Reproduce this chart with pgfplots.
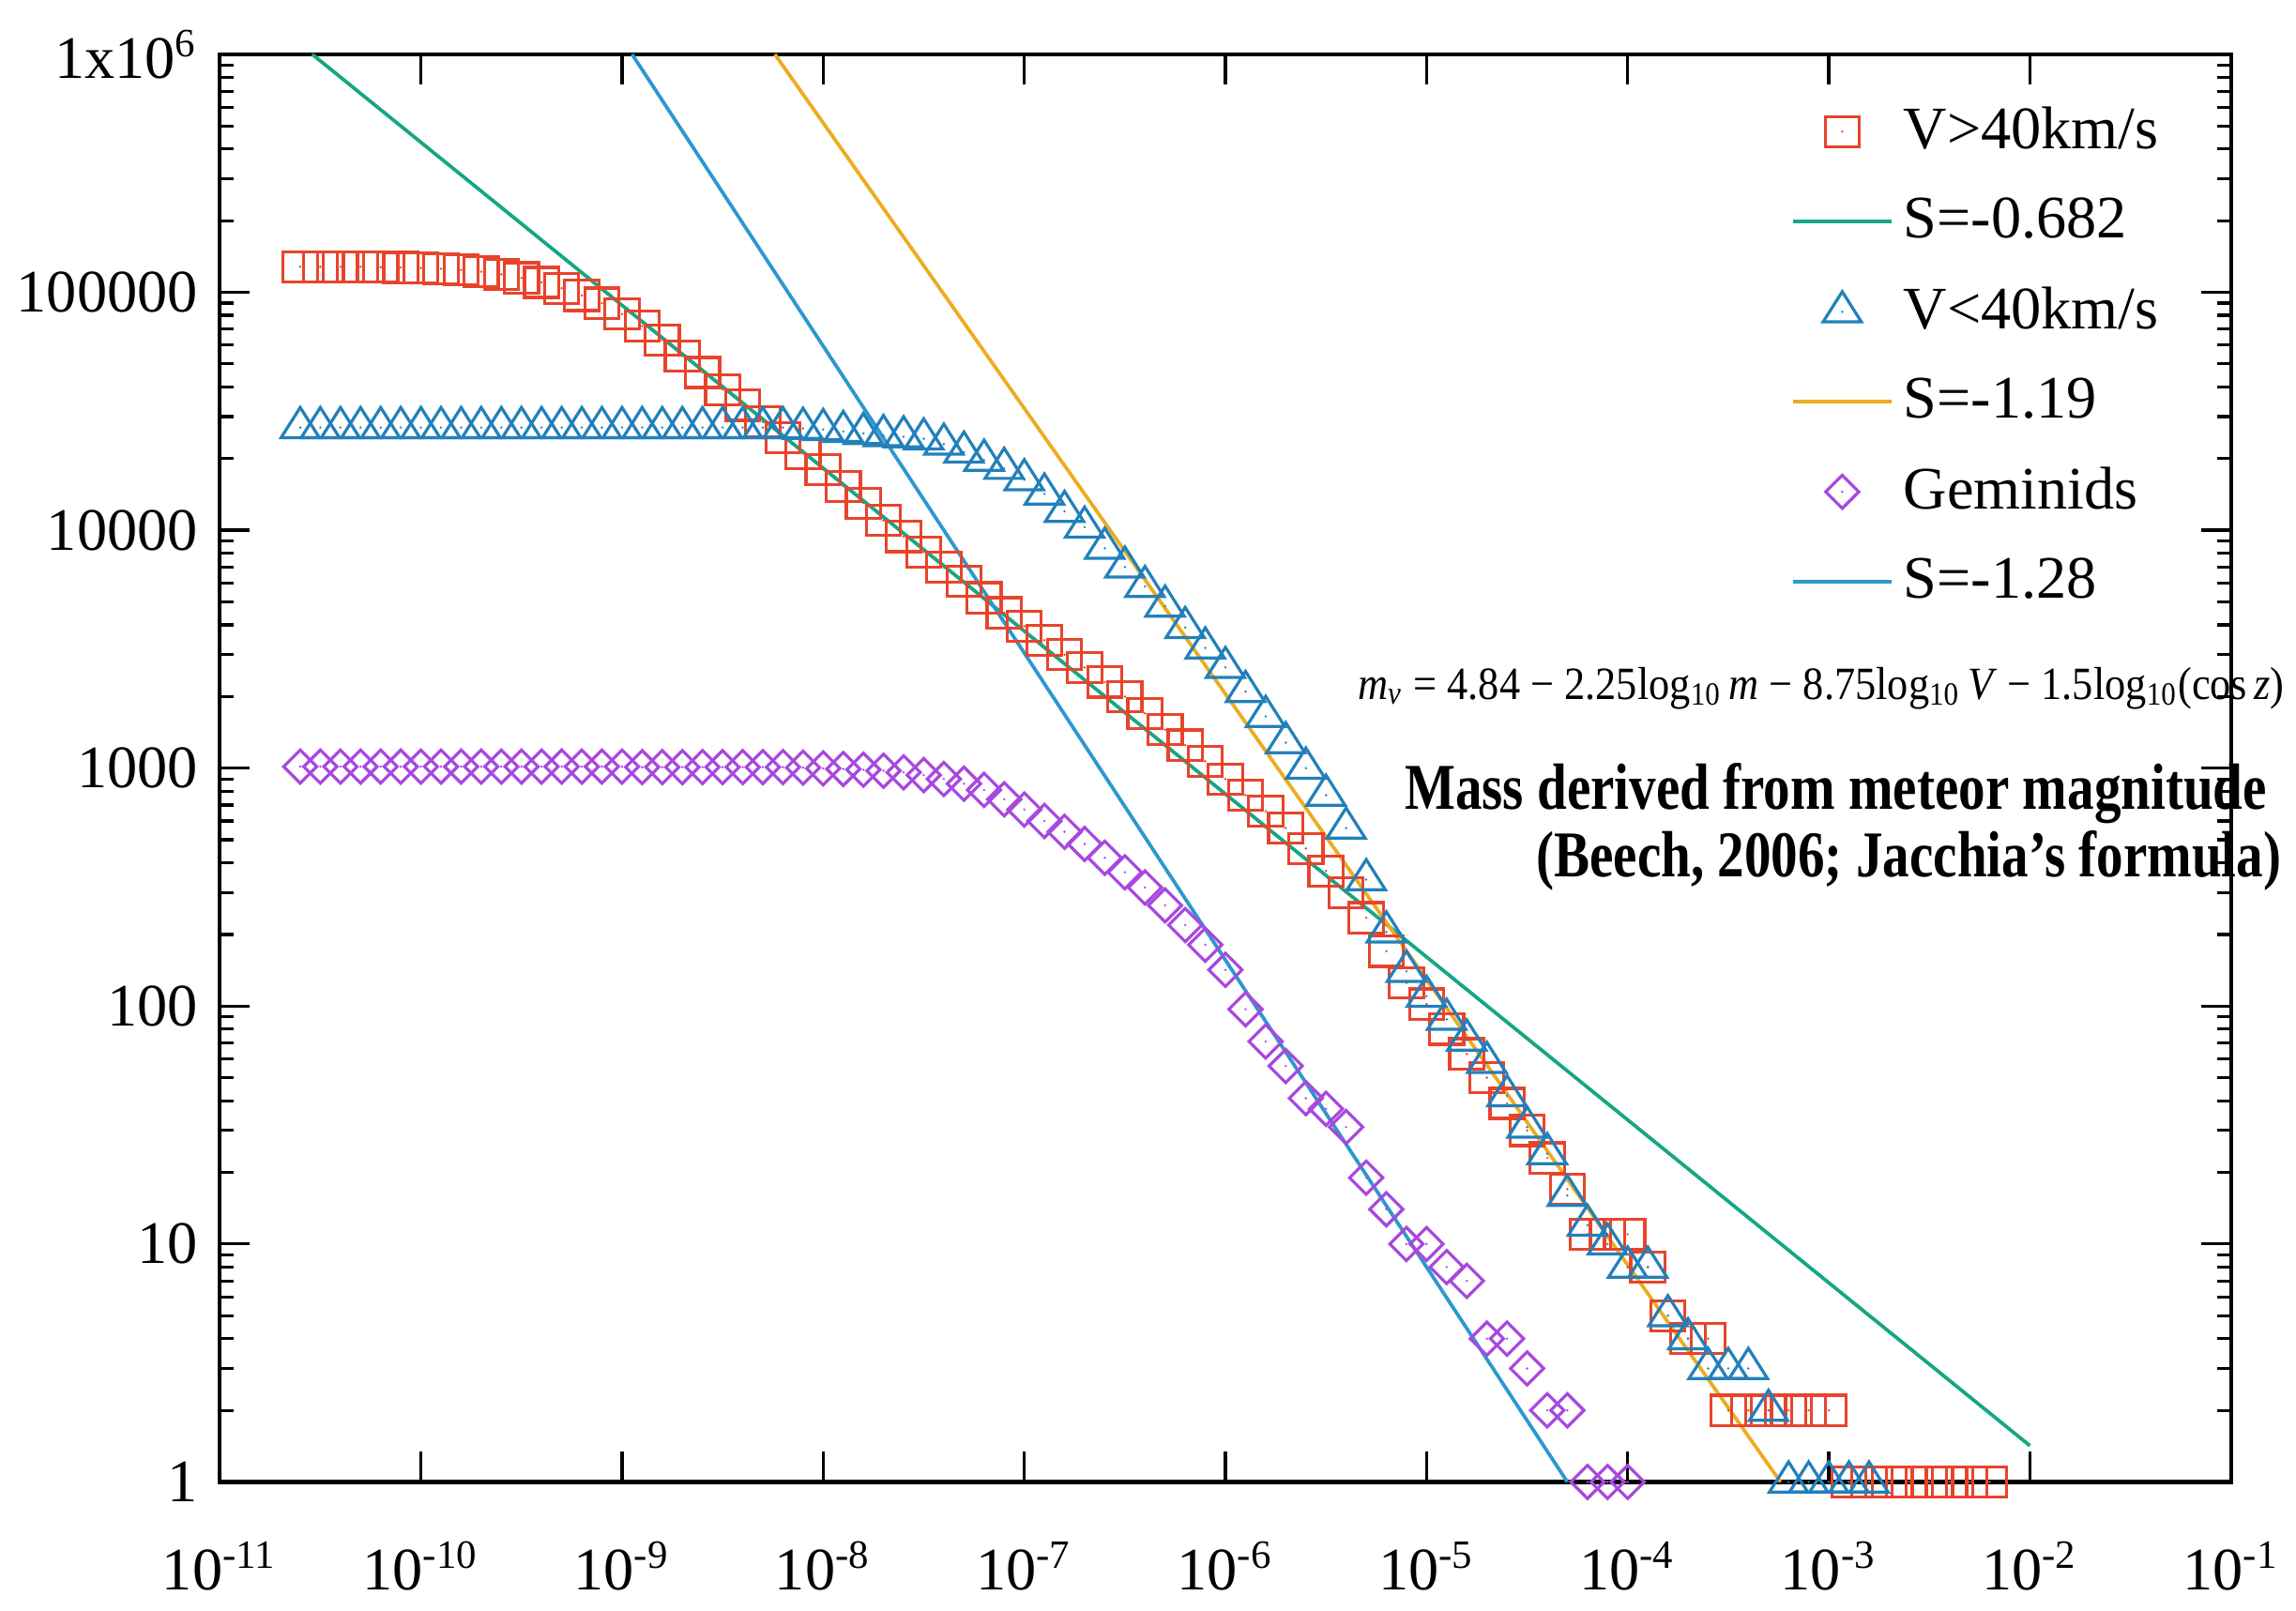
\documentclass[border=0pt]{standalone}
\usepackage{fontspec}
\setmainfont{Liberation Serif}
\usepackage{graphicx}
\usepackage{pgfplots}
\usepackage{pgfplotstable}
\pgfplotsset{compat=1.18}

\definecolor{cred}{RGB}{232,68,44}
\definecolor{cgreen}{RGB}{22,166,132}
\definecolor{ctri}{RGB}{34,128,186}
\definecolor{corange}{RGB}{236,172,32}
\definecolor{cpurple}{RGB}{168,72,222}
\definecolor{cblue}{RGB}{44,152,206}

% open marks with a small dot in the middle
\pgfdeclareplotmark{sqdot}{%
  \pgfpathrectangle{\pgfqpoint{-3.4pt}{-3pt}}{\pgfqpoint{6.8pt}{6pt}}%
  \pgfusepathqstroke
  \pgfpathcircle{\pgfpointorigin}{0.25pt}\pgfusepathqfill}
\pgfdeclareplotmark{tridot}{%
  \pgfpathmoveto{\pgfqpoint{0pt}{4pt}}%
  \pgfpathlineto{\pgfqpoint{-3.8pt}{-2pt}}%
  \pgfpathlineto{\pgfqpoint{3.8pt}{-2pt}}%
  \pgfpathclose\pgfusepathqstroke
  \pgfpathcircle{\pgfpointorigin}{0.25pt}\pgfusepathqfill}
\pgfdeclareplotmark{diadot}{%
  \pgfpathmoveto{\pgfqpoint{0pt}{3.3pt}}%
  \pgfpathlineto{\pgfqpoint{3.3pt}{0pt}}%
  \pgfpathlineto{\pgfqpoint{0pt}{-3.3pt}}%
  \pgfpathlineto{\pgfqpoint{-3.3pt}{0pt}}%
  \pgfpathclose\pgfusepathqstroke
  \pgfpathcircle{\pgfpointorigin}{0.25pt}\pgfusepathqfill}

% V > 40 km/s
\pgfplotstableread{
m N
2.512e-11 128000
3.162e-11 128000
3.981e-11 128000
5.012e-11 128000
6.310e-11 127500
7.943e-11 127000
1e-10 126500
1.259e-10 125500
1.585e-10 124000
1.995e-10 122000
2.512e-10 119000
3.162e-10 115000
3.981e-10 110000
5.012e-10 104000
6.310e-10 97000
7.943e-10 90000
1e-9 81000
1.259e-9 72000
1.585e-9 63000
1.995e-9 54000
2.512e-9 46000
3.162e-9 39000
3.981e-9 33500
5.012e-9 28500
6.310e-9 24500
7.943e-9 21000
1e-8 18000
1.259e-8 15300
1.585e-8 13000
1.995e-8 11000
2.512e-8 9400
3.162e-8 8100
3.981e-8 7000
5.012e-8 6100
6.310e-8 5200
7.943e-8 4500
1e-7 3950
1.259e-7 3450
1.585e-7 3000
1.995e-7 2650
2.512e-7 2300
3.162e-7 2000
3.981e-7 1700
5.012e-7 1450
6.310e-7 1250
7.943e-7 1070
1e-6 900
1.259e-6 770
1.585e-6 660
1.995e-6 560
2.512e-6 460
3.162e-6 370
3.981e-6 300
5.012e-6 235
6.310e-6 170
7.943e-6 125
1e-5 102
1.259e-5 80
1.585e-5 63
1.995e-5 50
2.512e-5 39
3.162e-5 30
3.981e-5 23
5.012e-5 17
6.310e-5 11
7.943e-5 11
1e-4 11
1.259e-4 8
1.585e-4 5
1.995e-4 4
2.512e-4 4
3.162e-4 2
3.981e-4 2
5.012e-4 2
6.310e-4 2
7.943e-4 2
1e-3 2
1.259e-3 1
1.585e-3 1
1.995e-3 1
2.512e-3 1
3.162e-3 1
3.981e-3 1
5.012e-3 1
6.310e-3 1
}\fast

% V < 40 km/s
\pgfplotstableread{
m N
2.512e-11 27000
3.162e-11 27000
3.981e-11 27000
5.012e-11 27000
6.310e-11 27000
7.943e-11 27000
1e-10 27000
1.259e-10 27000
1.585e-10 27000
1.995e-10 27000
2.512e-10 27000
3.162e-10 27000
3.981e-10 27000
5.012e-10 27000
6.310e-10 27000
7.943e-10 27000
1e-9 27000
1.259e-9 27000
1.585e-9 27000
1.995e-9 27000
2.512e-9 27000
3.162e-9 27000
3.981e-9 27000
5.012e-9 27000
6.310e-9 27000
7.943e-9 26800
1e-8 26500
1.259e-8 26000
1.585e-8 25500
1.995e-8 25000
2.512e-8 24700
3.162e-8 24200
3.981e-8 23000
5.012e-8 21300
6.310e-8 19700
7.943e-8 18200
1e-7 16300
1.259e-7 14200
1.585e-7 12000
1.995e-7 10300
2.512e-7 8400
3.162e-7 7000
3.981e-7 5800
5.012e-7 4800
6.310e-7 3900
7.943e-7 3200
1e-6 2650
1.259e-6 2100
1.585e-6 1650
1.995e-6 1280
2.512e-6 1000
3.162e-6 770
3.981e-6 560
5.012e-6 340
6.310e-6 205
7.943e-6 140
1e-5 110
1.259e-5 88
1.585e-5 72
1.995e-5 58
2.512e-5 42
3.162e-5 31
3.981e-5 24
5.012e-5 16
6.310e-5 12
7.943e-5 10
1e-4 8
1.259e-4 8
1.585e-4 5
1.995e-4 4
2.512e-4 3
3.162e-4 3
3.981e-4 3
5.012e-4 2
6.310e-4 1
7.943e-4 1
1e-3 1
1.259e-3 1
1.585e-3 1
}\slow

% Geminids
\pgfplotstableread{
m N
2.512e-11 1015
3.162e-11 1015
3.981e-11 1015
5.012e-11 1015
6.310e-11 1015
7.943e-11 1015
1e-10 1015
1.259e-10 1015
1.585e-10 1015
1.995e-10 1015
2.512e-10 1015
3.162e-10 1015
3.981e-10 1015
5.012e-10 1015
6.310e-10 1015
7.943e-10 1015
1e-9 1015
1.259e-9 1010
1.585e-9 1010
1.995e-9 1010
2.512e-9 1010
3.162e-9 1010
3.981e-9 1010
5.012e-9 1010
6.310e-9 1010
7.943e-9 1005
1e-8 998
1.259e-8 992
1.585e-8 985
1.995e-8 975
2.512e-8 960
3.162e-8 935
3.981e-8 900
5.012e-8 860
6.310e-8 810
7.943e-8 740
1e-7 670
1.259e-7 600
1.585e-7 540
1.995e-7 480
2.512e-7 420
3.162e-7 365
3.981e-7 315
5.012e-7 265
6.310e-7 219
7.943e-7 181
1e-6 142
1.259e-6 97
1.585e-6 71
1.995e-6 56
2.512e-6 41
3.162e-6 37
3.981e-6 31
5.012e-6 19
6.310e-6 14
7.943e-6 10
1e-5 10
1.259e-5 8
1.585e-5 7
1.995e-5 4
2.512e-5 4
3.162e-5 3
3.981e-5 2
5.012e-5 2
6.310e-5 1
7.943e-5 1
1e-4 1
}\gem

\begin{document}
\begin{tikzpicture}
\begin{axis}[
  xmode=log, ymode=log,
  scale only axis,
  width=14.06cm, height=9.98cm,
  xmin=1e-11, xmax=1e-1,
  ymin=1, ymax=1e6,
  xtick={1e-11,1e-10,1e-9,1e-8,1e-7,1e-6,1e-5,1e-4,1e-3,1e-2,1e-1},
  xticklabels={10\textsuperscript{-11},10\textsuperscript{-10},10\textsuperscript{-9},
    10\textsuperscript{-8},10\textsuperscript{-7},10\textsuperscript{-6},10\textsuperscript{-5},
    10\textsuperscript{-4},10\textsuperscript{-3},10\textsuperscript{-2},10\textsuperscript{-1}},
  ytick={1,10,100,1000,10000,100000,1000000},
  yticklabels={1,10,100,1000,10000,100000,1x10\textsuperscript{6}},
  xminorticks=false,
  tick align=inside,
  tick pos=both,
  major tick length=0.21cm,
  minor tick length=0.1cm,
  axis line style={line width=0.8pt},
  every tick/.style={black, line width=0.6pt},
  tick label style={font=\fontsize{12}{14}\selectfont},
  xticklabel style={inner ysep=0pt, yshift=-0.41cm},
  yticklabel style={xshift=-0.03cm},
  clip=false,
  legend cell align=left,
  legend style={draw=none, fill=none, at={(0.977,0.978)}, anchor=north east,
    font=\fontsize{12}{14}\selectfont, row sep=0.15cm,
    /tikz/every even column/.append style={column sep=0.24cm}},
  legend image code/.code={\draw[mark repeat=2,mark phase=2,#1]
    plot coordinates {(0cm,0cm) (0.345cm,0cm) (0.69cm,0cm)};},
]
\addplot[only marks, mark=sqdot, color=cred, line width=0.6pt] table[x=m, y=N] {\fast};
\addlegendentry{V>40km/s}
\addplot[color=cgreen, line width=0.7pt, no marks] coordinates {(2.884e-11,1e6) (1e-2,1.42)};
\addlegendentry{S=-0.682}
\addplot[only marks, mark=tridot, color=ctri, line width=0.6pt] table[x=m, y=N] {\slow};
\addlegendentry{V<40km/s}
\addplot[color=corange, line width=0.7pt, no marks] coordinates {(5.754e-9,1e6) (5.754e-4,1)};
\addlegendentry{S=-1.19}
\addplot[only marks, mark=diadot, color=cpurple, line width=0.6pt] table[x=m, y=N] {\gem};
\addlegendentry{Geminids}
\addplot[color=cblue, line width=0.7pt, no marks] coordinates {(1.122e-9,1e6) (5.012e-5,1)};
\addlegendentry{S=-1.28}

\node[anchor=east, inner sep=0pt] at (rel axis cs:1.027,0.556)
  {\scalebox{0.90}[1]{\fontsize{9.2}{11}\selectfont\textit{m}\textsubscript{\textit{v}} = 4.84 − 2.25log\textsubscript{10}\,\textit{m} − 8.75log\textsubscript{10}\,\textit{V} − 1.5log\textsubscript{10}(cos\,\textit{z})}};
\node[anchor=east, align=right, inner sep=0pt, font=\bfseries\fontsize{13}{13.5}\selectfont]
  at (rel axis cs:1.0255,0.459)
  {\scalebox{0.82}[1]{Mass derived from meteor magnitude}\hspace*{0.1cm}\\
   \scalebox{0.82}[1]{(Beech, 2006; Jacchia’s formula)}};
\end{axis}
\path ([shift={(-1.53cm,-0.90cm)}]current axis.south west)
  rectangle ([shift={(0.41cm,0.38cm)}]current axis.north east);
\end{tikzpicture}
\end{document}
